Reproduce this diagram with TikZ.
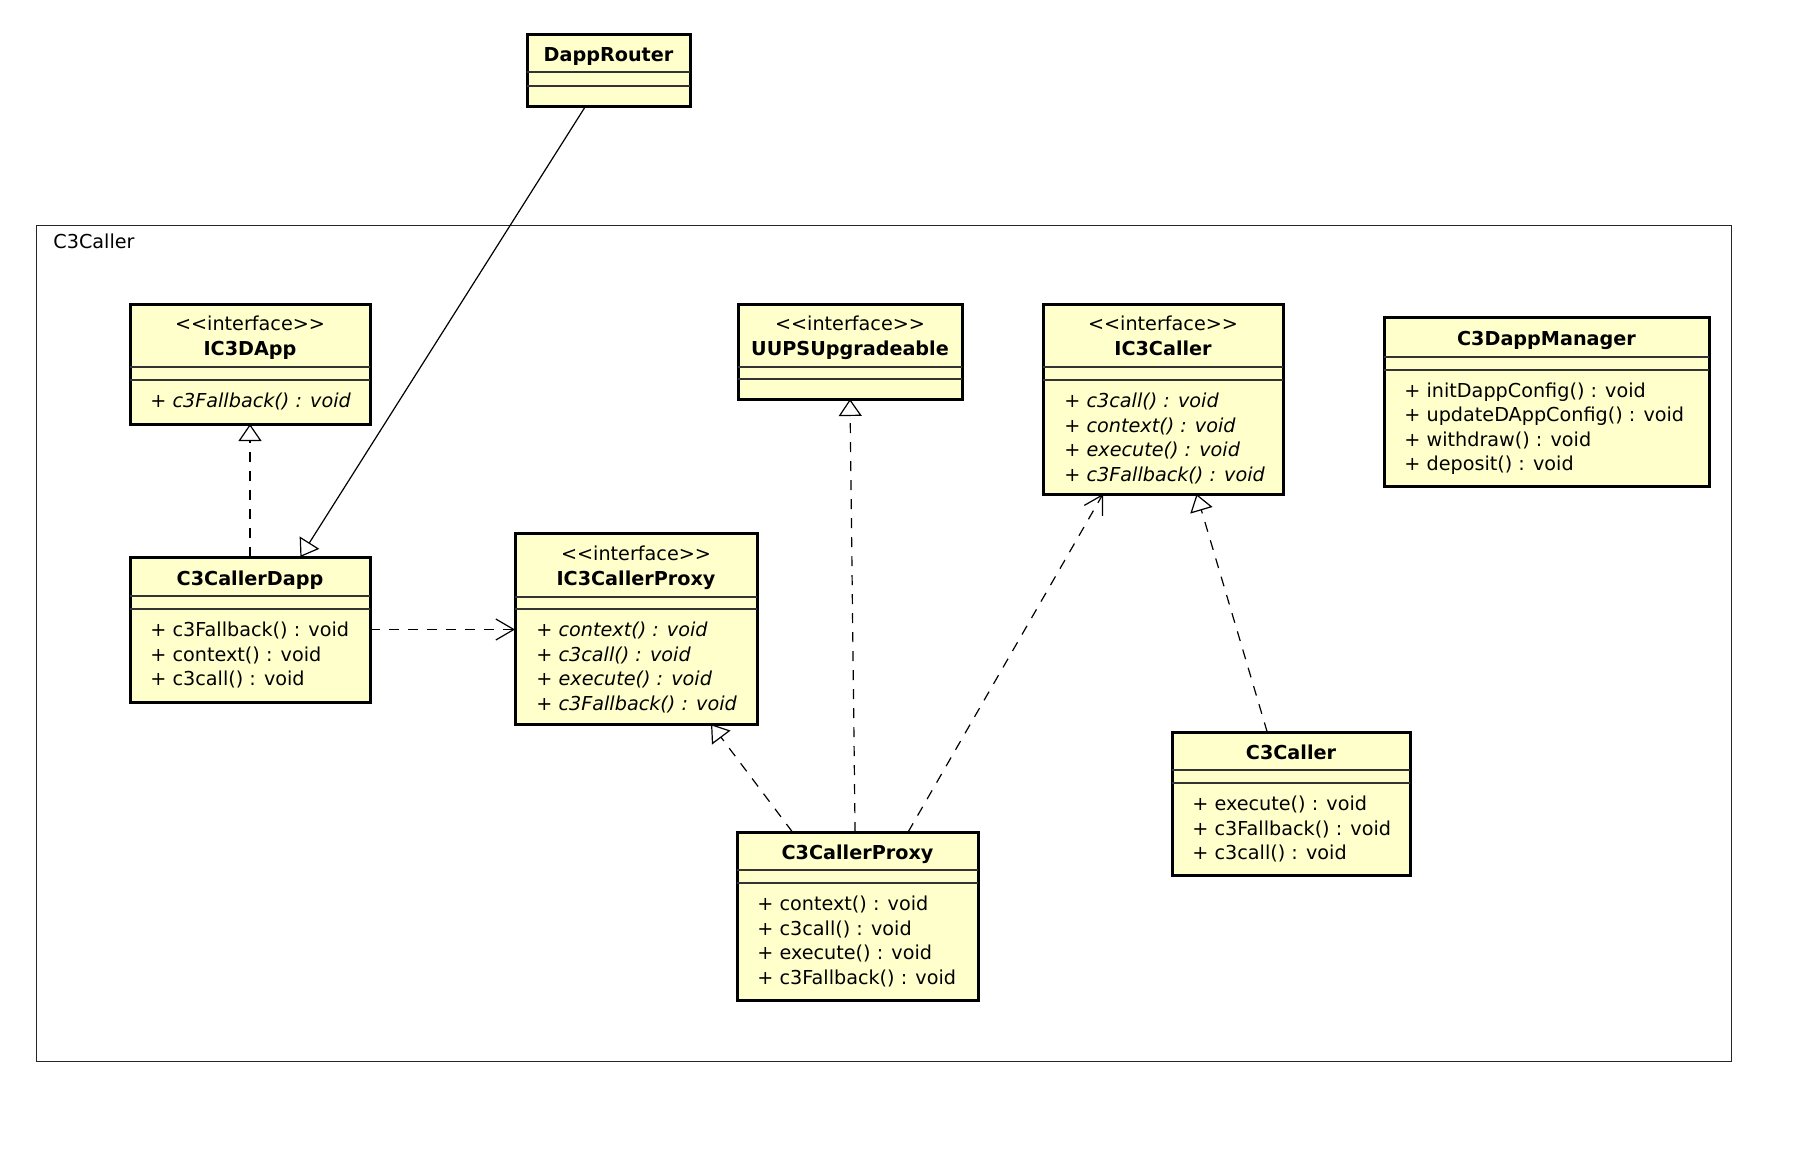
\documentclass[tikz,border=0pt]{standalone}
\usepackage{fontspec}
\setmainfont{DejaVu Sans}
\usepackage{tikz}
\usetikzlibrary{positioning, calc, arrows.meta}
\definecolor{classfill}{RGB}{255,255,204}
\tikzset{umlclass/.style={draw, line width=1.5pt, fill=classfill, anchor=north west, inner sep=0pt, outer sep=0pt}}
\tikzset{compart/.style={line width=0.75pt, black!80}}
\tikzset{cname/.style={font=\fontsize{9.6}{12.25}\selectfont\bfseries, anchor=base, inner sep=0pt}}
\tikzset{stereo/.style={font=\fontsize{9.6}{12.25}\selectfont, anchor=base, inner sep=0pt}}
\tikzset{ops/.style={font=\fontsize{9.6}{12.25}\selectfont, align=left, anchor=base west, inner sep=0pt}}
\tikzset{absops/.style={ops, font=\fontsize{9.6}{12.25}\selectfont\itshape}}
\tikzstyle{gen}=[line width=0.6pt, -{Triangle[open, length=8.5pt, width=11.5pt]}]
\tikzstyle{realize}=[gen, dash pattern=on 5pt off 4.5pt]
\tikzstyle{depend}=[line width=0.6pt, dash pattern=on 5pt off 4.5pt, -{Straight Barb[length=9pt, width=10.5pt]}]

\begin{document}
\begin{tikzpicture}[x=0.5pt, y=-0.5pt]
  \useasboundingbox (0,0) rectangle (1800,1153);

  % package frame
  \node[draw=black!85, line width=0.5pt, anchor=north west, minimum width=847.5pt, minimum height=418pt, inner sep=0pt, outer sep=0pt] (pkg) at (36,225) {};
  \node[stereo, anchor=base west] (pkgname) at ($(pkg.north west)+(17,23)$) {C3Caller};

  % classes (ops nodes sit on the baseline of their last line)
  \node[umlclass, minimum width=81.5pt, minimum height=36pt] (router) at (527,34) {};
  \node[cname] (routername) at ($(router.north)+(0,27.5)$) {DappRouter};

  \node[umlclass, minimum width=120pt, minimum height=60pt] (idapp) at (130,304) {};
  \node[stereo] (idappst) at ($(idapp.north)+(0,26)$) {<\kern0pt<interface>\kern0pt>};
  \node[cname] (idappname) at ($(idapp.north)+(0,51)$) {IC3DApp};
  \node[absops] (idappops) at ($(idapp.north west)+(20,103.5)$) {+ c3Fallback() : void};

  \node[umlclass, minimum width=112pt, minimum height=47.5pt] (uups) at (738,304) {};
  \node[stereo] (uupsst) at ($(uups.north)+(0,26)$) {<\kern0pt<interface>\kern0pt>};
  \node[cname] (uupsname) at ($(uups.north)+(0,51)$) {UUPSUpgradeable};

  \node[umlclass, minimum width=120pt, minimum height=95pt] (icaller) at (1043,304) {};
  \node[stereo] (icallerst) at ($(icaller.north)+(0,26)$) {<\kern0pt<interface>\kern0pt>};
  \node[cname] (icallername) at ($(icaller.north)+(0,51)$) {IC3Caller};
  \node[absops] (icallerops) at ($(icaller.north west)+(21,177)$)
    {+ c3call() : void\\+ context() : void\\+ execute() : void\\+ c3Fallback() : void};

  \node[umlclass, minimum width=162.5pt, minimum height=84.5pt] (manager) at (1384,317) {};
  \node[cname] (managername) at ($(manager.north)+(0,28)$) {C3DappManager};
  \node[ops] (managerops) at ($(manager.north west)+(20,153.5)$)
    {+ initDappConfig() : void\\+ updateDAppConfig() : void\\+ withdraw() : void\\+ deposit() : void};

  \node[umlclass, minimum width=120pt, minimum height=72.5pt] (dapp) at (130,557) {};
  \node[cname] (dappname) at ($(dapp.north)+(0,28)$) {C3CallerDapp};
  \node[ops] (dappops) at ($(dapp.north west)+(20,128.5)$)
    {+ c3Fallback() : void\\+ context() : void\\+ c3call() : void};

  \node[umlclass, minimum width=121pt, minimum height=95.5pt] (iproxy) at (515,533) {};
  \node[stereo] (iproxyst) at ($(iproxy.north)+(0,27)$) {<\kern0pt<interface>\kern0pt>};
  \node[cname] (iproxyname) at ($(iproxy.north)+(0,52)$) {IC3CallerProxy};
  \node[absops] (iproxyops) at ($(iproxy.north west)+(21,177)$)
    {+ context() : void\\+ c3call() : void\\+ execute() : void\\+ c3Fallback() : void};

  \node[umlclass, minimum width=120.5pt, minimum height=84pt] (cproxy) at (737,832) {};
  \node[cname] (cproxyname) at ($(cproxy.north)+(0,27.5)$) {C3CallerProxy};
  \node[ops] (cproxyops) at ($(cproxy.north west)+(20,152)$)
    {+ context() : void\\+ c3call() : void\\+ execute() : void\\+ c3Fallback() : void};

  \node[umlclass, minimum width=119pt, minimum height=71.5pt] (ccaller) at (1172,732) {};
  \node[cname] (ccallername) at ($(ccaller.north)+(0,27.5)$) {C3Caller};
  \node[ops] (ccallerops) at ($(ccaller.north west)+(20,127.5)$)
    {+ execute() : void\\+ c3Fallback() : void\\+ c3call() : void};

  % compartments
  \foreach \c/\a/\b in {router/38/52, idapp/63/76, uups/63/75, icaller/63/76, manager/40/53,
                        dapp/39/52, iproxy/64/76, cproxy/38/51, ccaller/38/51}
    \draw[compart] ($(\c.north west)+(0,\a)$) -- ($(\c.north east)+(0,\a)$)
                   ($(\c.north west)+(0,\b)$) -- ($(\c.north east)+(0,\b)$);

  % relations
  \draw[gen] ($(router.south west)!.36!(router.south east)$) -- ($(dapp.north west)!.71!(dapp.north east)$);
  \draw[realize] (dapp.north) -- (idapp.south);
  \draw[depend] (dapp.east) -- (dapp.east -| iproxy.west);
  \draw[realize] ($(cproxy.north west)!.23!(cproxy.north east)$) -- ($(iproxy.south west)!.81!(iproxy.south east)$);
  \draw[realize] ($(cproxy.north west)!.49!(cproxy.north east)$) -- ($(uups.south west)!.5!(uups.south east)$);
  \draw[depend] ($(cproxy.north west)!.71!(cproxy.north east)$) -- ($(icaller.south west)!.25!(icaller.south east)$);
  \draw[realize] ($(ccaller.north west)!.40!(ccaller.north east)$) -- ($(icaller.south west)!.64!(icaller.south east)$);
\end{tikzpicture}
\end{document}
